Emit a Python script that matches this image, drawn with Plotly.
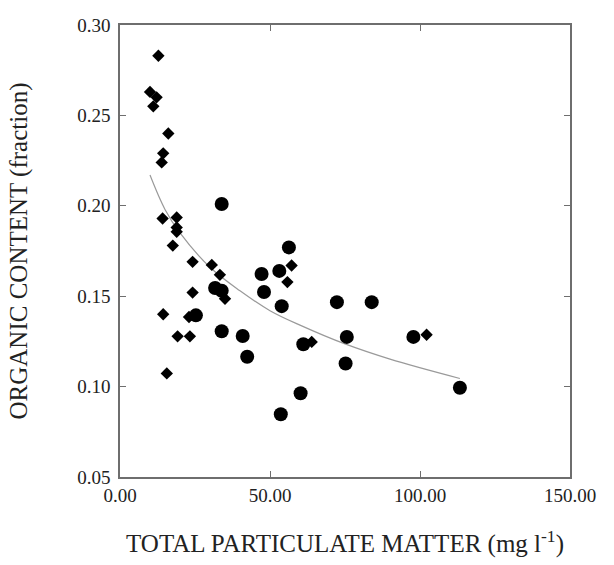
import plotly.graph_objects as go

# Diamond series (small markers)
dia_x = [12.8, 10.0, 12.2, 11.1, 16.1, 14.4, 13.9, 14.2, 18.9, 18.9, 18.9, 17.6,
         24.2, 30.6, 33.3, 57.2, 55.8, 35.0, 24.2, 14.4, 23.0, 19.2, 23.3, 63.9,
         15.6, 102.2]
dia_y = [0.283, 0.263, 0.260, 0.255, 0.240, 0.229, 0.224, 0.193, 0.1935, 0.188, 0.1856, 0.178,
         0.169, 0.1673, 0.1618, 0.167, 0.1578, 0.1486, 0.152, 0.140, 0.1385, 0.1278, 0.1278, 0.1247,
         0.1073, 0.1287]

# Circle series (large markers)
cir_x = [33.9, 56.3, 47.2, 53.1, 48.0, 31.7, 33.9, 53.9, 72.3, 83.9, 25.3, 33.9,
         40.9, 42.4, 61.1, 75.6, 75.2, 60.2, 53.6, 97.8, 113.3]
cir_y = [0.201, 0.177, 0.1623, 0.164, 0.1523, 0.1545, 0.153, 0.1445, 0.1467, 0.1467, 0.1394, 0.1306,
         0.128, 0.1165, 0.1234, 0.1275, 0.1128, 0.0963, 0.0847, 0.1275, 0.0994]

# Fitted curve, points
curve_x = [10, 15, 20, 30, 40, 50, 60, 75, 90, 113.3]
curve_y = [0.217, 0.198, 0.185, 0.166, 0.153, 0.142, 0.134, 0.1236, 0.1152, 0.1045]

x_ticks = [0, 50, 100, 150]
x_tick_text = ["0.00", "50.00", "100.00", "150.00"]
y_ticks = [0.05, 0.10, 0.15, 0.20, 0.25, 0.30]
y_tick_text = ["0.05", "0.10", "0.15", "0.20", "0.25", "0.30"]

fig = go.Figure()
fig.add_trace(go.Scatter(x=curve_x, y=curve_y, mode="lines",
                         line=dict(color="#9a9a9a", width=1.2, shape="spline"),
                         showlegend=False, hoverinfo="skip"))
fig.add_trace(go.Scatter(x=dia_x, y=dia_y, mode="markers",
                         marker=dict(symbol="diamond", size=9.5, color="black"),
                         showlegend=False))
fig.add_trace(go.Scatter(x=cir_x, y=cir_y, mode="markers",
                         marker=dict(symbol="circle", size=14, color="black"),
                         showlegend=False))

font = "Liberation Serif, Times New Roman, serif"
axis_common = dict(showgrid=False, zeroline=False, showline=True, linecolor="#6e6e6e",
                   linewidth=1.5, mirror="ticks", ticks="inside", ticklen=6,
                   tickcolor="#6e6e6e", tickwidth=1.2,
                   tickfont=dict(family=font, size=19, color="#222"))

fig.update_layout(
    width=614, height=565,
    margin=dict(l=120, r=44, t=25, b=86),
    paper_bgcolor="white", plot_bgcolor="white",
    xaxis=dict(range=[0, 150], tickvals=x_ticks, ticktext=x_tick_text,
               title=dict(text="TOTAL PARTICULATE MATTER (mg l<sup>-1</sup>)",
                          font=dict(family=font, size=25, color="#222"), standoff=30),
               **axis_common),
    yaxis=dict(range=[0.05, 0.30], tickvals=y_ticks, ticktext=y_tick_text,
               ticklabelstandoff=4,
               title=dict(text="ORGANIC CONTENT (fraction)",
                          font=dict(family=font, size=25, color="#222"), standoff=42),
               **axis_common),
)

fig.write_html("out.html")
